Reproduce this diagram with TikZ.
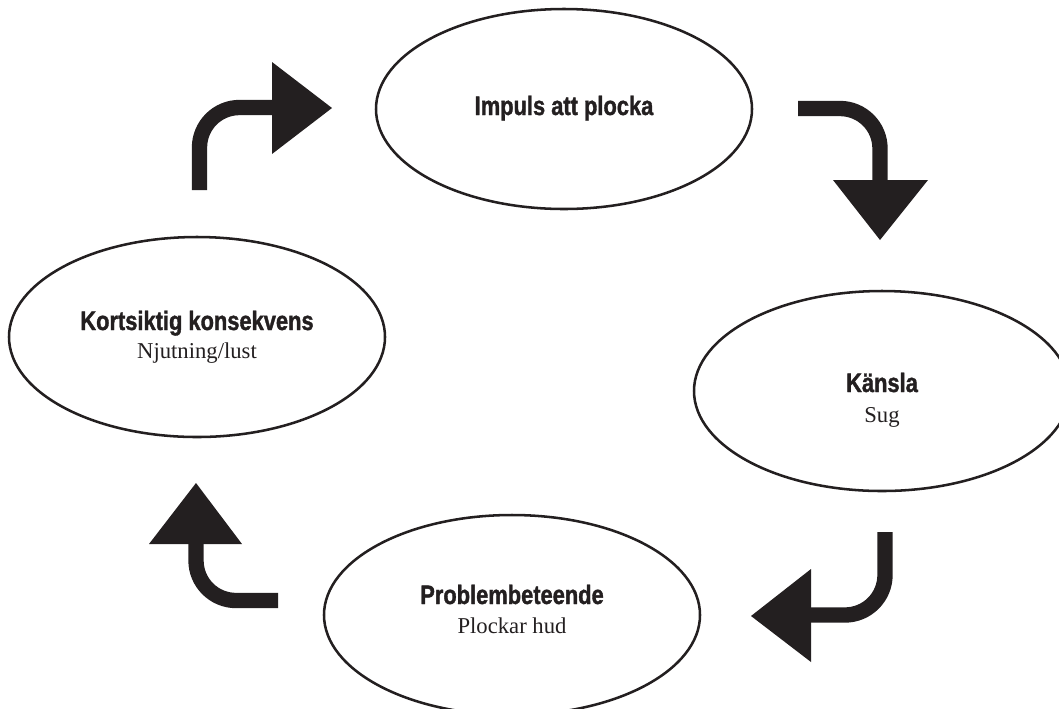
\documentclass[tikz,border=0pt]{standalone}
\usepackage{fontspec}
\setmainfont{Liberation Serif}
\newfontfamily\titlefont[FakeStretch=0.82,FakeBold=1.3]{Liberation Sans}
\usetikzlibrary{shapes.geometric}
\definecolor{ink}{HTML}{231F20}
\begin{document}
\begin{tikzpicture}[x=0.75pt,y=-0.75pt,
  bubble/.style={ellipse, draw=ink, line width=1.9pt, minimum width=282pt, minimum height=150pt, inner sep=0pt},
  titletext/.style={anchor=base, inner sep=0pt, text=ink, font=\titlefont\bfseries\fontsize{20pt}{22pt}\selectfont},
  subtext/.style={anchor=base, inner sep=0pt, text=ink, font=\fontsize{17pt}{20pt}\selectfont},
  shaft/.style={draw=ink, line width=11.5pt, rounded corners=30pt},
  head/.style={fill=ink, draw=none}]
\useasboundingbox (0,0) rectangle (1059,708);
% ellipses
\node[bubble] (e1) at (564,109) {};
\node[bubble] (e2) at (197,337) {};
\node[bubble] (e3) at (882,391) {};
\node[bubble] (e4) at (512,615) {};
% texts
\node[titletext] (t1) at (564,115) {Impuls att plocka};
\node[titletext] (t2) at (197,330) {Kortsiktig konsekvens};
\node[subtext]   (s2) at (197,358) {Njutning/lust};
\node[titletext] (t3) at (882,392) {Känsla};
\node[subtext]   (s3) at (882,422) {Sug};
\node[titletext] (t4) at (512,604) {Problembeteende};
\node[subtext]   (s4) at (512,633) {Plockar hud};
% arrow A (consequence -> impulse)
\coordinate (a1s) at (199.5,190);
\coordinate (a1c) at (199.5,107.5);
\coordinate (a1e) at (274,107.5);
\coordinate (a1b) at (272,62);
\coordinate (a1t) at (332,108);
\coordinate (a1d) at (272,154);
\draw[shaft] (a1s) -- (a1c) -- (a1e);
\fill[head] (a1b) -- (a1t) -- (a1d) -- cycle;
% arrow B (impulse -> feeling)
\coordinate (a2s) at (798,108.5);
\coordinate (a2c) at (880,108.5);
\coordinate (a2e) at (880,182);
\coordinate (a2b) at (833,180);
\coordinate (a2t) at (880,240);
\coordinate (a2d) at (928,180);
\draw[shaft] (a2s) -- (a2c) -- (a2e);
\fill[head] (a2b) -- (a2t) -- (a2d) -- cycle;
% arrow C (feeling -> behaviour)
\coordinate (a3s) at (885,532);
\coordinate (a3c) at (885,615);
\coordinate (a3e) at (809,615);
\coordinate (a3b) at (811,569);
\coordinate (a3t) at (751,616);
\coordinate (a3d) at (811,662);
\draw[shaft] (a3s) -- (a3c) -- (a3e);
\fill[head] (a3b) -- (a3t) -- (a3d) -- cycle;
% arrow D (behaviour -> consequence)
\coordinate (a4s) at (278,600.5);
\coordinate (a4c) at (196,600.5);
\coordinate (a4e) at (196,542);
\coordinate (a4b) at (149,544);
\coordinate (a4t) at (196,483);
\coordinate (a4d) at (242,544);
\draw[shaft] (a4s) -- (a4c) -- (a4e);
\fill[head] (a4b) -- (a4t) -- (a4d) -- cycle;
\end{tikzpicture}
\end{document}
